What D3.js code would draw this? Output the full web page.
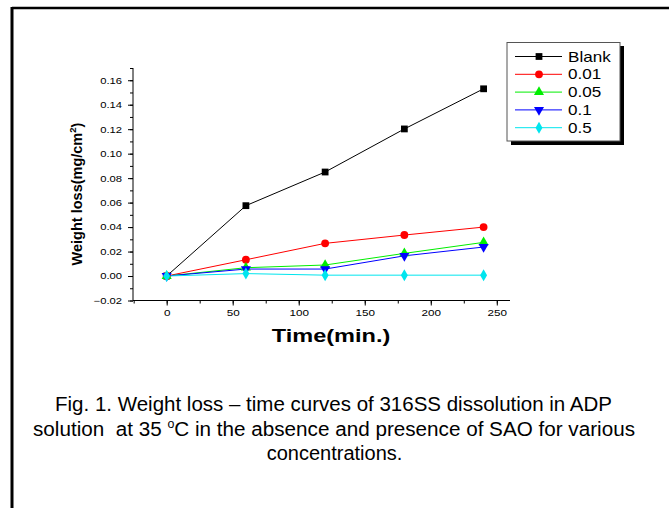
<!DOCTYPE html>
<html><head><meta charset="utf-8">
<script src="https://cdn.jsdelivr.net/npm/d3@7"></script>
<style>
html,body{margin:0;padding:0;background:#fff;}
svg text{font-family:Arial,"Liberation Sans",sans-serif;}
</style></head>
<body>
<svg id="c" width="669" height="508"></svg>
<script>
const times = [0, 60, 120, 180, 240];
const seriesNames = ["Blank", "0.01", "0.05", "0.1", "0.5"];
const blank = [0, 0.0575, 0.0850, 0.1202, 0.1530];
const c001 = [0, 0.0133, 0.0267, 0.0335, 0.0400];
const c005 = [0, 0.0068, 0.0090, 0.0185, 0.0275];
const c01 = [0, 0.0057, 0.0057, 0.0165, 0.0237];
const c05 = [0, 0.0020, 0.0007, 0.0007, 0.0007];
const xTicks = [0, 50, 100, 150, 200, 250];
const yTicks = [-0.02, 0, 0.02, 0.04, 0.06, 0.08, 0.10, 0.12, 0.14, 0.16];
const colors = ["#000000", "#ff0000", "#00ee00", "#0000ff", "#00e5ee"];
const shapes = [d3.symbolSquare, d3.symbolCircle, d3.symbolTriangle, "tridown", d3.symbolDiamond];
const allSeries = [blank, c001, c005, c01, c05];

const svg = d3.select("#c");
// frame
svg.append("line").attr("x1",12).attr("x2",669).attr("y1",8).attr("y2",8).attr("stroke","#000").attr("stroke-width",2.5);
svg.append("line").attr("x1",12).attr("x2",12).attr("y1",7).attr("y2",508).attr("stroke","#000").attr("stroke-width",3);

const x = d3.scaleLinear().domain([-25.5, 260]).range([133, 510]);
const y = d3.scaleLinear().domain([-0.02, 0.17]).range([300.5, 68]);

// axes
const gx = svg.append("g").attr("transform","translate(0,300.5)");
gx.call(d3.axisBottom(x).tickValues(d3.range(-25,260,25)).tickSize(3).tickFormat(""));
gx.call(g=>g.select(".domain").remove());
const gx2 = svg.append("g").attr("transform","translate(0,300.5)");
gx2.call(d3.axisBottom(x).tickValues(xTicks).tickSize(5).tickFormat(d3.format("d")));
gx2.selectAll("text").attr("font-size",9).attr("fill","#000").attr("font-family","Arial, Liberation Sans, sans-serif")
  .attr("dy",null).attr("y",15.5).attr("transform","scale(1.3,1)");
gx2.select(".domain").attr("d","M133,0H510");

const gy = svg.append("g").attr("transform","translate(133,0)");
gy.call(d3.axisLeft(y).tickValues(d3.range(-0.02,0.171,0.01)).tickSize(3).tickFormat(""));
gy.call(g=>g.select(".domain").remove());
const gy2 = svg.append("g").attr("transform","translate(133,0)");
gy2.call(d3.axisLeft(y).tickValues(yTicks).tickSize(5).tickFormat(d3.format(".2f")));
gy2.selectAll("text").attr("font-size",9).attr("fill","#000").attr("font-family","Arial, Liberation Sans, sans-serif")
  .attr("x",-11/1.25).attr("transform","scale(1.25,1)");
gy2.select(".domain").attr("d","M0,68V300.5");
svg.selectAll(".tick line").attr("stroke","#000");
svg.selectAll(".domain").attr("stroke","#000");

// lines & markers
const line = d3.line().x((d,i)=>x(times[i])).y(d=>y(d));
function sym(s, size){
  if (s === "tridown") return d3.symbol().type(d3.symbolTriangle).size(size)();
  return d3.symbol().type(s).size(size)();
}
const sizes = [46, 48, 44, 44, 42];
allSeries.forEach((vals, k)=>{
  svg.append("path").attr("d", line(vals)).attr("fill","none").attr("stroke",colors[k]).attr("stroke-width",1);
});
allSeries.forEach((vals, k)=>{
  svg.selectAll(null).data(vals).enter().append("path")
    .attr("d", sym(shapes[k], sizes[k]))
    .attr("transform",(d,i)=>`translate(${x(times[i])},${y(d)})${shapes[k]==="tridown"?" rotate(180)":""}`)
    .attr("fill",colors[k]);
});

// axis titles
svg.append("text").attr("transform","translate(331,342) scale(1.24,1)").attr("text-anchor","middle")
  .attr("font-size",19).attr("font-weight","bold").text("Time(min.)");
const yl = svg.append("text").attr("transform","translate(82,194) rotate(-90)").attr("text-anchor","middle")
  .attr("font-size",14.5).attr("font-weight","bold");
yl.append("tspan").text("Weight loss(mg/cm");
yl.append("tspan").attr("font-size",9.5).attr("dy",-6).text("2");
yl.append("tspan").attr("dy",6).text(")");

// legend
const lg = svg.append("g");
lg.append("rect").attr("x",511).attr("y",46).attr("width",113).attr("height",99).attr("fill","#000");
lg.append("rect").attr("x",507).attr("y",42.5).attr("width",113).attr("height",98.5).attr("fill","#fff").attr("stroke","#555").attr("stroke-width",1);
seriesNames.forEach((n,k)=>{
  const yy = 56.5 + k*17.8;
  lg.append("line").attr("x1",515).attr("x2",562).attr("y1",yy).attr("y2",yy).attr("stroke",colors[k]).attr("stroke-width",1);
  lg.append("path").attr("d", sym(shapes[k], sizes[k])).attr("fill",colors[k])
    .attr("transform",`translate(539,${yy})${shapes[k]==="tridown"?" rotate(180)":""}`);
  lg.append("text").attr("transform",`translate(568,${yy+5}) scale(1.22,1)`).attr("font-size",14).text(n);
});

// caption
const cap = svg.append("g").attr("font-size",20).attr("text-anchor","middle");
cap.append("text").attr("x",333.5).attr("y",411).attr("textLength",557).attr("lengthAdjust","spacingAndGlyphs")
  .text("Fig. 1. Weight loss \u2013 time curves of 316SS dissolution in ADP");
const l2 = cap.append("text").attr("x",334).attr("y",436).attr("textLength",602).attr("lengthAdjust","spacingAndGlyphs");
l2.append("tspan").text("solution\u00a0 at 35 ");
l2.append("tspan").attr("font-size",12).attr("dy",-8).text("o");
l2.append("tspan").attr("dy",8).text("C in the absence and presence of SAO for various");
cap.append("text").attr("x",334.5).attr("y",460).text("concentrations.");
</script>
</body></html>
